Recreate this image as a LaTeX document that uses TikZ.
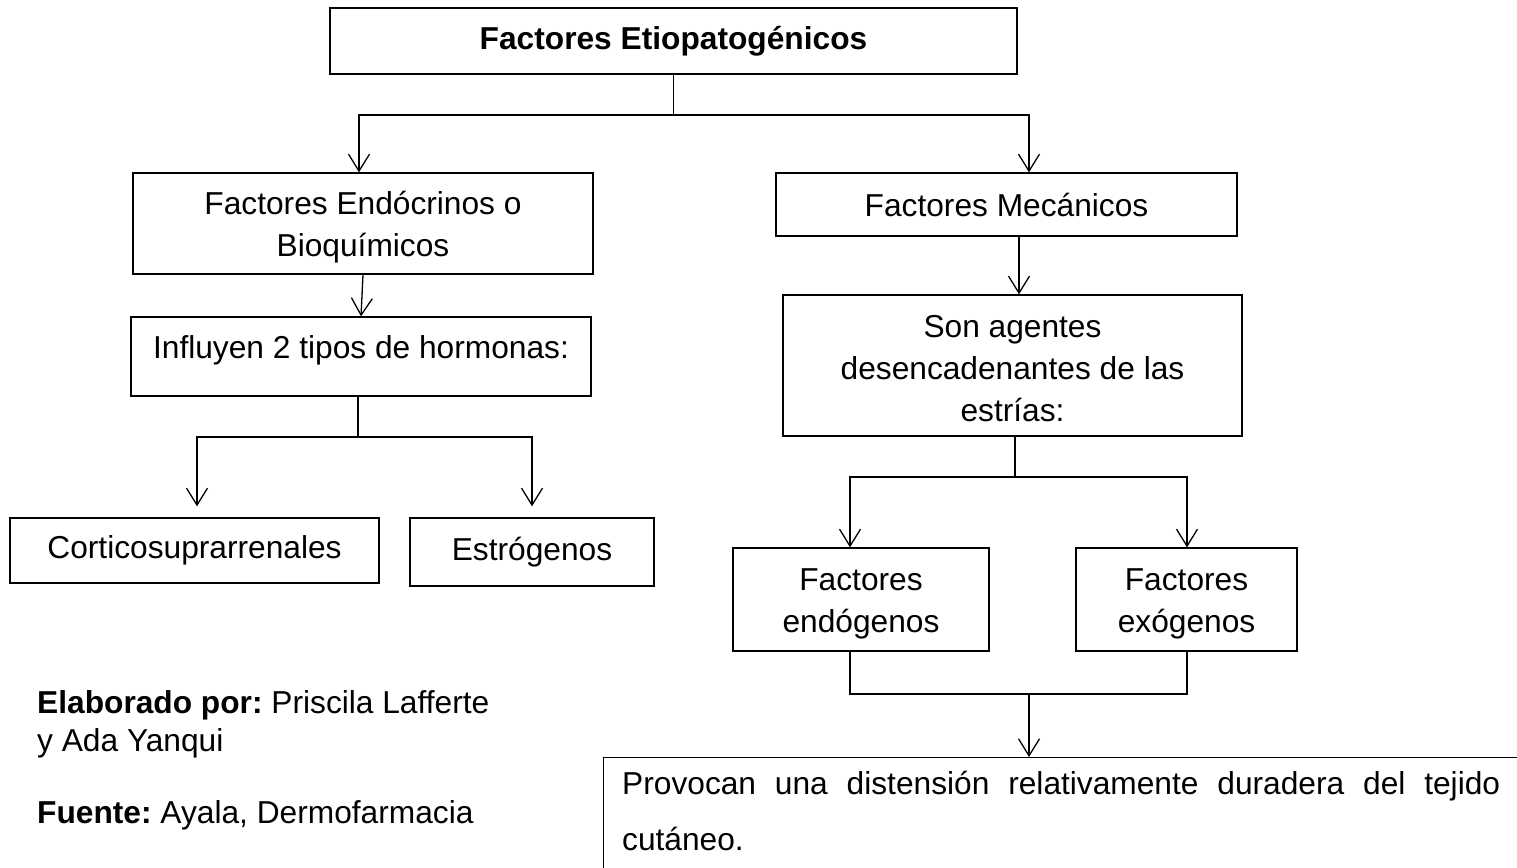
\documentclass[tikz,border=0pt]{standalone}
\usepackage{fontspec}
\setmainfont{Liberation Sans}
\usetikzlibrary{arrows.meta}
\frenchspacing
\begin{document}
\begin{tikzpicture}[x=1pt,y=-1pt,
  box/.style={draw, line width=1.3pt, inner sep=0pt, align=center,
    font=\fontsize{31.7}{42}\selectfont},
  conn/.style={line width=1.3pt},
  arr/.style={line width=1.3pt, -{Straight Barb[length=17pt,width=21pt,line width=1.3pt]}},
  arrs/.style={line width=1.3pt, {Straight Barb[length=17pt,width=21pt,line width=1.3pt]}-{Straight Barb[length=17pt,width=21pt,line width=1.3pt]}},
  txt/.style={inner sep=0pt, font=\fontsize{31.7}{38}\selectfont, align=left}]
\useasboundingbox (0,0) rectangle (1517,867);
\clip (0,0) rectangle (1517,867);

% boxes
\node[box, minimum width=687pt, minimum height=66pt] (top) at (673.5,41) {\bfseries Factores Etiopatogénicos};
\node[box, minimum width=460pt, minimum height=101pt] (endo) at (363,223.5) {\raisebox{-4pt}[\height][\depth]{Factores Endócrinos o}\\\raisebox{-4pt}[\height][\depth]{Bioquímicos}};
\node[box, minimum width=461pt, minimum height=63pt] (mec) at (1006.5,204.5) {Factores Mecánicos};
\node[box, minimum width=460pt, minimum height=79pt] (inf) at (361,356.5) {\raisebox{6pt}[\height][\depth]{Influyen 2 tipos de hormonas:}};
\node[box, minimum width=459pt, minimum height=141pt] (son) at (1012.5,365.5) {\raisebox{-3pt}[\height][\depth]{Son agentes}\\\raisebox{-3pt}[\height][\depth]{desencadenantes de las}\\\raisebox{-3pt}[\height][\depth]{estrías:}};
\node[box, minimum width=369pt, minimum height=65pt] (cort) at (194.5,550.5) {Corticosuprarrenales};
\node[box, minimum width=244pt, minimum height=68pt] (estr) at (532,552) {Estrógenos};
\node[box, minimum width=256pt, minimum height=103pt] (endog) at (861,599.5) {\raisebox{-4pt}[\height][\depth]{Factores}\\\raisebox{-4pt}[\height][\depth]{endógenos}};
\node[box, minimum width=221pt, minimum height=103pt] (exog) at (1186.5,599.5) {\raisebox{-4pt}[\height][\depth]{Factores}\\\raisebox{-4pt}[\height][\depth]{exógenos}};
\node[draw, line width=1.3pt, inner sep=0pt, anchor=north west, minimum width=960pt, minimum height=150pt] (bot) at (603,757) {};
\node[inner sep=0pt, anchor=north west, text width=878pt, align=justify,
  font=\fontsize{31.7}{56}\selectfont] (bottxt) at (622,771)
  {\hyphenpenalty=10000 Provocan una distensión relativamente duradera del tejido\linebreak cutáneo.};

% left notes
\node[txt, anchor=base west] (elab) at (37,751) {\textbf{Elaborado por:} Priscila Lafferte\\y Ada Yanqui};
\node[txt, anchor=base west] (fuente) at (37,823) {\textbf{Fuente:} Ayala, Dermofarmacia};

% coordinates for branches
\coordinate (b1L) at (359,115);
\coordinate (b1R) at (1029,115);
\coordinate (m1) at (1019,0);
\coordinate (b2L) at (197,437);
\coordinate (b2R) at (532,437);
\coordinate (b2C) at (358,0);
\coordinate (b3L) at (850,477);
\coordinate (b3R) at (1187,477);
\coordinate (b3C) at (1015,0);
\coordinate (b4L) at (850,694);
\coordinate (b4R) at (1187,694);
\coordinate (b4C) at (1029,694);

% connectors
\draw[conn] (top.south) -- (top.south |- b1L);
\draw[arrs] (b1L |- endo.north) -- (b1L) -- (b1R) -- (b1R |- mec.north);
\draw[arr] (mec.south -| m1) -- (son.north -| m1);
\draw[arr] (endo.south) -- (inf.north);
\draw[conn] (inf.south -| b2C) -- (b2L -| b2C);
\draw[arrs, shorten <=11pt, shorten >=11pt] (b2L |- cort.north) -- (b2L) -- (b2R) -- (b2R |- estr.north);
\draw[conn] (son.south -| b3C) -- (b3L -| b3C);
\draw[arrs] (b3L |- endog.north) -- (b3L) -- (b3R) -- (b3R |- exog.north);
\draw[conn] (endog.south -| b4L) -- (b4L) -- (b4R) -- (exog.south -| b4R);
\draw[arr] (b4C) -- (bot.north -| b4C);
\end{tikzpicture}
\end{document}
